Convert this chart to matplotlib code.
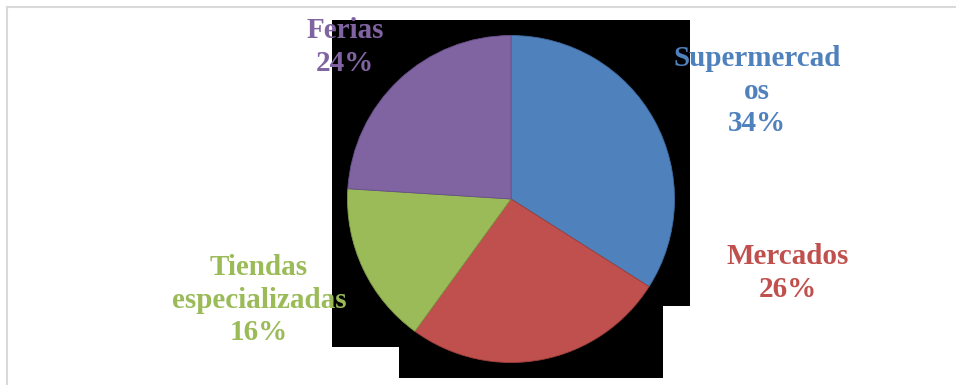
import matplotlib.pyplot as plt
from matplotlib.patches import Polygon
from matplotlib.lines import Line2D

categories = ["Supermercados", "Mercados", "Tiendas especializadas", "Ferias"]
shown_labels = ["Supermercad\nos", "Mercados", "Tiendas\nespecializadas", "Ferias"]
shares = [34, 26, 16, 24]
colors = ["#4F81BD", "#C0504D", "#9BBB59", "#8064A2"]
edge_colors = ["#3F6A9E", "#9E3F3C", "#7F9A47", "#66508A"]

# label centres, in pie-radius units relative to the pie centre
label_pos = [(1.505, 0.66), (1.694, -0.453), (-1.541, -0.618), (-1.015, 0.93)]

W, H = 956, 385
cx, cy, r = 511, 199, 163.5   # pie centre / radius in pixels

fig = plt.figure(figsize=(W / 100, H / 100), dpi=100)
fig.patch.set_facecolor("white")

# black backdrop behind the pie (as in the source picture)
backdrop_px = [(332, 19.5), (690, 19.5), (690, 305.5), (663, 305.5), (663, 378),
               (399, 378), (399, 347), (332, 347)]
fig.patches.append(Polygon([(x / W, 1 - y / H) for x, y in backdrop_px],
                           closed=True, facecolor="black", edgecolor="none",
                           transform=fig.transFigure, zorder=0))

# light grey chart frame (top and left edges)
fig.lines.append(Line2D([7 / W, 1], [1 - 7 / H, 1 - 7 / H], color="#D9D9D9",
                        lw=1.5, transform=fig.transFigure))
fig.lines.append(Line2D([7 / W, 7 / W], [1 - 7 / H, 0], color="#D9D9D9",
                        lw=1.5, transform=fig.transFigure))

ax = fig.add_axes([0, 0, 1, 1])
ax.set_zorder(2)
ax.patch.set_alpha(0)
wedges, _ = ax.pie(shares, colors=colors, startangle=90, counterclock=False,
                   radius=1, wedgeprops=dict(linewidth=0.6))
for w, ec in zip(wedges, edge_colors):
    w.set_edgecolor(ec)

ax.set_xlim(-cx / r, (W - cx) / r)
ax.set_ylim((cy - H) / r, cy / r)
ax.axis("off")

for lab, val, col, (x, y) in zip(shown_labels, shares, colors, label_pos):
    ax.text(x, y, f"{lab}\n{val}%", ha="center", va="center", color=col,
            fontsize=21, fontweight="bold", family="Liberation Serif",
            linespacing=1.28, multialignment="center")

fig.savefig("out.png", dpi=100)
